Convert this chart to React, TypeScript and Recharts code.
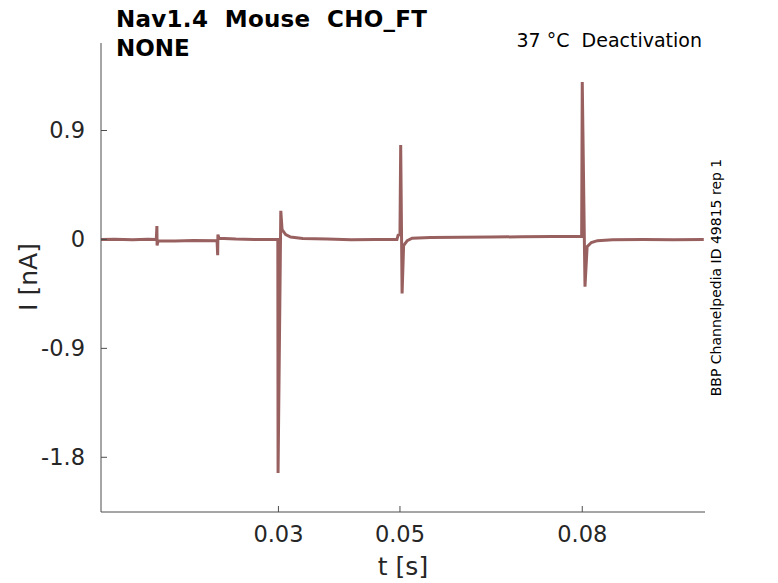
import React from 'react';
import { LineChart, Line, XAxis, YAxis } from 'recharts';

const TIME = [
  0.0008, 0.003, 0.006, 0.0085, 0.0099, 0.01, 0.01003, 0.0102, 0.013, 0.016,
  0.0199, 0.02, 0.02004, 0.0202, 0.023, 0.026, 0.0299, 0.02994, 0.03039, 0.0306,
  0.0312, 0.032, 0.034, 0.038, 0.042, 0.046, 0.0495, 0.0497, 0.0500, 0.05012,
  0.05035, 0.0506, 0.0512, 0.052, 0.055, 0.06, 0.065, 0.07, 0.075, 0.0799,
  0.08, 0.08045, 0.0808, 0.0815, 0.0825, 0.085, 0.09, 0.095, 0.1,
];
const CURRENT = [
  0.0, 0.002, -0.003, 0.001, 0.0, 0.11, -0.05, -0.01, -0.012, -0.008,
  -0.01, -0.13, 0.04, 0.01, 0.003, 0.0, 0.0, -1.93, 0.236, 0.08,
  0.04, 0.02, 0.008, 0.003, -0.002, 0.0, 0.0, 0.035, 0.04, 0.78,
  -0.446, -0.05, -0.01, 0.01, 0.015, 0.018, 0.02, 0.022, 0.024, 0.025,
  1.3, -0.39, -0.06, -0.025, -0.01, -0.003, 0.0, -0.002, 0.0,
];
const X_TICKS = [0.03, 0.05, 0.08];
const Y_TICKS = [-1.8, -0.9, 0, 0.9];

const data = TIME.map((t, i) => ({ t, cur: CURRENT[i] }));

const FONT = 'DejaVu Sans, sans-serif';
const tickStyle = { fill: '#262626', fontSize: 22.5, fontFamily: FONT };

export default function App() {
  return (
    <div style={{ position: 'absolute', left: 0, top: 0, width: 778, height: 583, background: '#fff' }}>
      <LineChart width={778} height={583} data={data} margin={{ top: 43, right: 73, bottom: 11, left: 0 }}>
        <XAxis
          dataKey="t"
          type="number"
          domain={[0.0008, 0.1002]}
          ticks={X_TICKS}
          allowDataOverflow
          height={60}
          tickSize={-6}
          tickMargin={20}
          stroke="#4d4d4d"
          tick={tickStyle}
          tickFormatter={(v: number) => String(v)}
        />
        <YAxis
          type="number"
          domain={[-2.252, 1.623]}
          ticks={Y_TICKS}
          allowDataOverflow
          width={101}
          tickSize={-6}
          tickMargin={22}
          stroke="#4d4d4d"
          tick={tickStyle}
          tickFormatter={(v: number) => (v === 0 ? '0' : String(v))}
        />
        <Line
          dataKey="cur"
          type="linear"
          stroke="#996060"
          strokeWidth={3}
          dot={false}
          isAnimationActive={false}
        />
      </LineChart>
      <svg width={778} height={583} style={{ position: 'absolute', left: 0, top: 0, pointerEvents: 'none' }}>
        <text x={116} y={27} fontFamily={FONT} fontWeight="bold" fontSize={23} fill="#000" textLength={311} lengthAdjust="spacing" style={{ whiteSpace: 'pre' }}>
          {'Nav1.4  Mouse  CHO_FT'}
        </text>
        <text x={116} y={56} fontFamily={FONT} fontWeight="bold" fontSize={23} fill="#000">
          NONE
        </text>
        <text x={702} y={47} fontFamily={FONT} fontSize={19} fill="#000" textAnchor="end" style={{ whiteSpace: 'pre' }}>
          {'37 °C  Deactivation'}
        </text>
        <text x={403} y={575} fontFamily={FONT} fontSize={25} fill="#262626" textAnchor="middle">
          t [s]
        </text>
        <text x={37} y={277} fontFamily={FONT} fontSize={25} fill="#262626" textAnchor="middle" transform="rotate(-90 37 277)">
          I [nA]
        </text>
        <text x={721} y={277.5} fontFamily={FONT} fontSize={14} fill="#000" textAnchor="middle" transform="rotate(-90 721 277.5)">
          BBP Channelpedia ID 49815 rep 1
        </text>
      </svg>
    </div>
  );
}
